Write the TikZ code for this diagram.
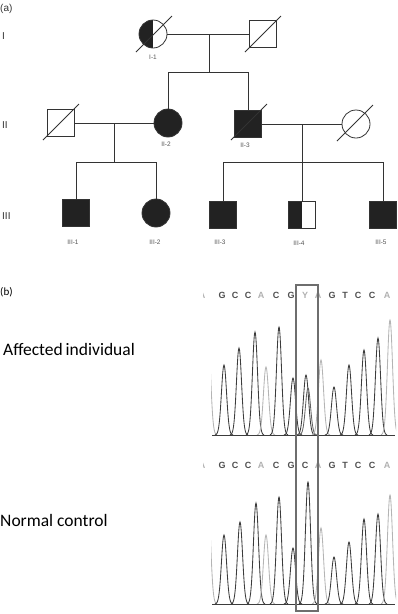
\documentclass[tikz,border=0pt]{standalone}
\usepackage{fontspec}
\setmainfont{Liberation Sans}
\newfontfamily\calib{Carlito}
\definecolor{pedline}{HTML}{333333}
\definecolor{pedfill}{HTML}{222222}
\definecolor{labgray}{HTML}{555555}
\definecolor{trdark}{HTML}{3C3C3C}
\definecolor{trlight}{HTML}{B4B4B4}
\definecolor{seqdark}{HTML}{505050}
\definecolor{seqlight}{HTML}{B0B0B0}
\definecolor{boxgray}{HTML}{6E6E6E}
\newcommand\pk[4]{\draw[#1,line width=0.85pt] plot[domain=#2-9:#2+9,samples=37,smooth] (\x,{#4-(#4-#3)*exp(-((\x-#2)/3.6)^2)});}
\begin{document}
\begin{tikzpicture}[x=1pt,y=-1pt,
  pedl/.style={draw=pedline,line width=0.8pt},
  male/.style={pedl,rectangle,minimum size=26.5pt,inner sep=0pt},
  female/.style={pedl,circle,minimum size=28pt,inner sep=0pt},
  aff/.style={fill=pedfill},
  halfleft/.style={path picture={\fill[pedfill] (path picture bounding box.south west) rectangle (path picture bounding box.north);}},
  plab/.style={font=\fontsize{6.5}{7}\selectfont,text=labgray,inner sep=0pt},
  gen/.style={font=\fontsize{10}{11}\selectfont,text=pedline,inner sep=0pt,anchor=west},
  seqd/.style={font=\bfseries\fontsize{9}{10}\selectfont,text=seqdark,inner sep=0pt},
  seql/.style={font=\bfseries\fontsize{9}{10}\selectfont,text=seqlight,inner sep=0pt},
  slash/.style={draw=pedline,line width=0.8pt}]
\useasboundingbox (0,0) rectangle (397,614);

% ---------- (a) pedigree ----------
\node[gen,font=\fontsize{10}{11}\selectfont] (la) at (0,9) {(a)};
\node[gen] (gI) at (2,36) {I};
\node[gen] (gII) at (2,125) {II};
\node[gen] (gIII) at (2,216) {III};

\node[female,halfleft] (I1) at (153,34) {};
\node[male] (I2) at (263,34) {};
\node[male] (II1) at (61,123) {};
\node[female,aff] (II2) at (168,123) {};
\node[male,aff] (II3) at (248,124) {};
\node[female] (II4) at (356,124) {};
\node[male,aff] (III1) at (76,213) {};
\node[female,aff] (III2) at (156,213) {};
\node[male,aff] (III3) at (223,215) {};
\node[male,halfleft] (III4) at (302,215) {};
\node[male,aff] (III5) at (383,215) {};

% slashes (deceased)
\draw[slash] (I1.center) ++(-17,18) -- ++(36,-36);
\draw[slash] (I2.center) ++(-18,18) -- ++(36,-36);
\draw[slash] (II1.center) ++(-18,17) -- ++(36,-36);
\draw[slash] (II3.center) ++(-17,16) -- ++(36,-36);
\draw[slash] (II4.center) ++(-19,17) -- ++(36,-36);

% labels
\node[plab] (lI1) at (153,57) {I-1};
\node[plab] (lII2) at (166,144) {II-2};
\node[plab] (lII3) at (245,145) {II-3};
\node[plab] (lIII1) at (73,242) {III-1};
\node[plab] (lIII2) at (155,242) {III-2};
\node[plab] (lIII3) at (220,242) {III-3};
\node[plab] (lIII4) at (299,243) {III-4};
\node[plab] (lIII5) at (381,242) {III-5};

% connectors
\coordinate (m1) at (209,34);
\coordinate (s1) at (209,72);
\coordinate (m2) at (114,123);
\coordinate (s2) at (114,162);
\coordinate (m3) at (302,124);
\coordinate (s3) at (302,162);
\draw[pedl] (I1) -- (I2);
\draw[pedl] (m1) -- (s1);
\draw[pedl] (II2.north) -- (II2.north |- s1) -- (II3.north |- s1) -- (II3.north);
\draw[pedl] (II1) -- (II2);
\draw[pedl] (m2) -- (s2);
\draw[pedl] (III1.north) -- (III1.north |- s2) -- (III2.north |- s2) -- (III2.north);
\draw[pedl] (II3) -- (II4);
\draw[pedl] (m3) -- (III4.north);
\draw[pedl] (III3.north) -- (III3.north |- s3) -- (III5.north |- s3) -- (III5.north);

% ---------- (b) chromatograms ----------
\node[inner sep=0pt,anchor=west,font=\calib\fontsize{11}{12}\selectfont] (lb) at (0,292) {(b)};
\node[inner sep=0pt,anchor=base west,font=\calib\fontsize{17.5}{20}\selectfont] (laff) at (3,355) {Affected\,individual};
\node[inner sep=0pt,anchor=base west,font=\calib\fontsize{17.5}{20}\selectfont] (lnorm) at (0,526) {Normal control};

% sequence letters
\begin{scope}
\clip (203,280) rectangle (397,614);
\foreach \p/\l/\s [count=\i] in {202/A/seql,222/G/seqd,235/C/seqd,248/C/seqd,261/A/seql,276/C/seqd,291/G/seqd,305/Y/seql,318/A/seql,332/G/seqd,345/T/seqd,358/C/seqd,372/C/seqd,387/A/seql}{
  \node[\s] (sa\i) at (\p,295) {\l};
}
\foreach \p/\l/\s [count=\i] in {202/A/seql,222/G/seqd,235/C/seqd,248/C/seqd,261/A/seql,276/C/seqd,291/G/seqd,305/C/seqd,318/A/seql,332/G/seqd,345/T/seqd,358/C/seqd,372/C/seqd,387/A/seql}{
  \node[\s] (sn\i) at (\p,465) {\l};
}
\end{scope}

% traces, affected
\begin{scope}
\clip (211,300) rectangle (396,440);
\pk{trlight}{208}{333}{435}
\pk{trdark}{224}{365}{435}
\pk{trdark}{239}{348}{435}
\pk{trdark}{255}{332}{435}
\pk{trlight}{266}{367}{435}
\pk{trdark}{279}{327}{435}
\pk{trdark}{293}{378}{435}
\pk{trdark}{306}{375}{435}
\pk{trdark!80}{308}{388}{435}
\pk{trlight}{321}{360}{435}
\pk{trdark}{334}{387}{435}
\pk{trdark}{349}{365}{435}
\pk{trdark}{364}{350}{435}
\pk{trdark}{378}{338}{435}
\pk{trlight}{390}{320}{435}
\draw[trdark,line width=0.7pt] (212,435) -- (395,435);
\end{scope}

% traces, normal
\begin{scope}
\clip (211,470) rectangle (396,609);
\pk{trlight}{208}{498}{604}
\pk{trdark}{224}{535}{604}
\pk{trdark}{240}{522}{604}
\pk{trdark}{256}{503}{604}
\pk{trlight}{266}{535}{604}
\pk{trdark}{279}{497}{604}
\pk{trdark}{293}{548}{604}
\pk{trdark}{308}{482}{604}
\pk{trlight}{321}{528}{604}
\pk{trdark}{334}{557}{604}
\pk{trdark}{349}{542}{604}
\pk{trdark}{364}{519}{604}
\pk{trdark}{378}{514}{604}
\pk{trlight}{390}{495}{604}
\draw[trdark,line width=0.7pt] (212,604) -- (395,604);
\end{scope}

% highlight box
\node[draw=boxgray,line width=1.3pt,minimum width=22pt,minimum height=326pt,inner sep=0pt] (hbox) at (307,448) {};
\end{tikzpicture}
\end{document}
